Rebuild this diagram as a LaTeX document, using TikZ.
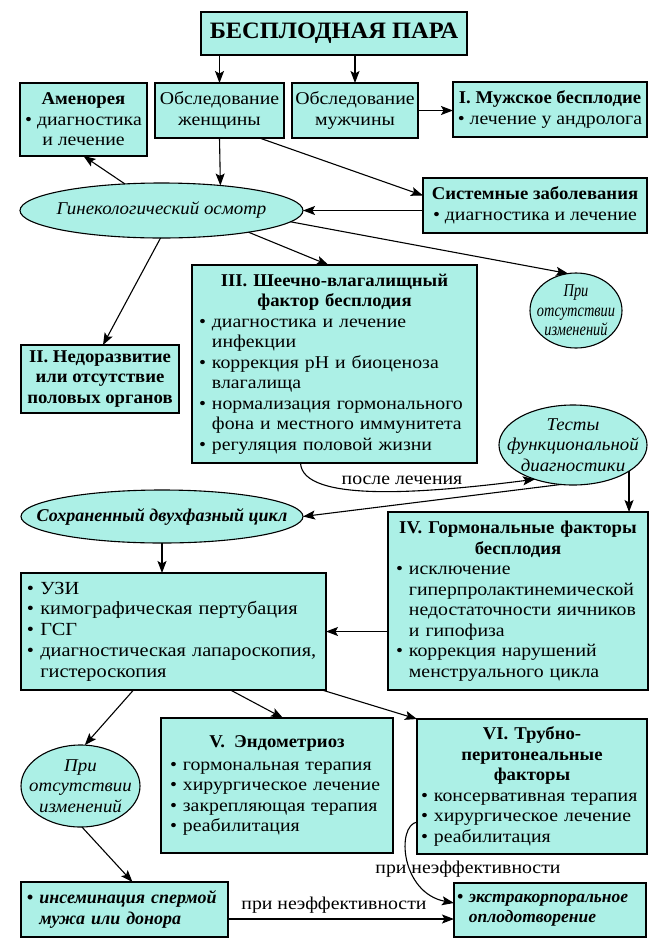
\documentclass[tikz,border=0pt]{standalone}
\usepackage{fontspec}
\setmainfont{Liberation Serif}[UprightFeatures={FakeStretch=1.1},BoldFeatures={FakeStretch=1.04},ItalicFeatures={FakeStretch=1.05}]
\newfontfamily\narrowit{Liberation Serif}[FakeStretch=0.8]
\usetikzlibrary{shapes.geometric,arrows.meta,calc}
\definecolor{boxc}{RGB}{172,240,230}
\newcommand\bsz{\fontsize{18}{20.5}\selectfont}
\newcommand\ctr[1]{\makebox[\hsize][c]{#1}}
\newcommand\ind{\phantom{•\ }}
\begin{document}
\begin{tikzpicture}[x=1pt,y=-1pt,
  every node/.style={font=\bsz},
  box/.style={draw, line width=1.1pt, fill=boxc, inner sep=0pt, outer sep=0pt},
  oval/.style={ellipse, draw, line width=1.1pt, fill=boxc, inner xsep=-80pt, inner ysep=-25pt, outer sep=0pt, align=center},
  arr/.style={line width=1.1pt, -{Stealth[length=12pt,width=9pt,inset=2.5pt]}},
  lbl/.style={inner sep=1pt}]
\useasboundingbox (0,0) rectangle (660,946);
\fill[white] (0,0) rectangle (660,946);

\node[box, minimum width=266pt, minimum height=43pt, font=\fontsize{23.5}{26}\selectfont\bfseries] (title) at (334,33.5) {БЕСПЛОДНАЯ ПАРА};
\node[box, minimum width=127pt, minimum height=73pt, align=center] (amen) at (83.5,119.5) {\textbf{Аменорея}\\• диагностика\\и лечение};
\node[box, minimum width=129pt, minimum height=55pt, align=center] (wom) at (219.5,110.5) {Обследование\\женщины};
\node[box, minimum width=126pt, minimum height=55pt, align=center] (men) at (355,110.5) {Обследование\\мужчины};
\node[box, minimum width=194pt, minimum height=55pt, align=center] (male) at (550,109.5) {\textbf{I. Мужское бесплодие}\\• лечение у андролога};
\node[box, minimum width=224pt, minimum height=55pt, align=center] (syst) at (535,205.5) {\textbf{Системные заболевания}\\• диагностика и лечение};
\node[oval, minimum width=283pt, minimum height=55pt, font=\bsz\itshape] (gyn) at (161.5,210.5) {Гинекологический осмотр};
\node[box, minimum width=158pt, minimum height=68pt, align=center, font=\bsz\bfseries] (und) at (100,379) {II. Недоразвитие\\или отсутствие\\половых органов};
\node[box, minimum width=285pt, minimum height=198pt, text width=271pt, align=left] (cerv) at (334.5,364) {\ctr{\textbf{III. Шеечно-влагалищный}}\\\ctr{\textbf{фактор бесплодия}}\\• диагностика и лечение\\\ind инфекции\\• коррекция pH и биоценоза\\\ind влагалища\\• нормализация гормонального\\\ind фона и местного иммунитета\\• регуляция половой жизни};
\node[oval, minimum width=92pt, minimum height=75pt, font=\fontsize{18}{19.5}\selectfont\narrowit\itshape] (pri1) at (576,310.5) {При\\отсутствии\\изменений};
\node[oval, minimum width=148pt, minimum height=80pt, font=\bsz\itshape] (tests) at (573,445) {Тесты\\функциональной\\диагностики};
\node[oval, minimum width=282pt, minimum height=53pt, font=\bsz\bfseries\itshape] (sohr) at (162,516.5) {Сохраненный двухфазный цикл};
\node[box, minimum width=260pt, minimum height=178pt, text width=244pt, align=left] (horm) at (518,601) {\ctr{\textbf{IV. Гормональные факторы}}\\\ctr{\textbf{бесплодия}}\\• исключение\\\ind гиперпролактинемической\\\ind недостаточности яичников\\\ind и гипофиза\\• коррекция нарушений\\\ind менструального цикла};
\node[box, minimum width=305pt, minimum height=117pt, text width=293pt, align=left, font=\fontsize{18.5}{20.8}\selectfont] (uzi) at (173.5,631.5) {• УЗИ\\• кимографическая пертубация\\• ГСГ\\• диагностическая лапароскопия,\\\ind гистероскопия};
\node[box, minimum width=232pt, minimum height=135pt, text width=214pt, align=left] (endo) at (277,785.5) {\ctr{\textbf{V.\enspace Эндометриоз}}\\[2pt]• гормональная терапия\\• хирургическое лечение\\• закрепляющая терапия\\• реабилитация};
\node[box, minimum width=230pt, minimum height=135pt, text width=222pt, align=left] (tube) at (532,786.5) {\ctr{\textbf{VI. Трубно-}}\\\ctr{\textbf{перитонеальные}}\\\ctr{\textbf{факторы}}\\• консервативная терапия\\• хирургическое лечение\\• реабилитация};
\node[oval, minimum width=119pt, minimum height=82pt, font=\bsz\itshape] (pri2) at (80.5,786) {При\\отсутствии\\изменений};
\node[box, minimum width=207pt, minimum height=55pt, text width=195pt, align=left, font=\bsz\bfseries\itshape] (insem) at (124.5,909.5) {• инсеминация спермой\\\ind мужа или донора};
\node[box, minimum width=192pt, minimum height=54pt, text width=186pt, align=left, font=\fontsize{17.5}{20.5}\selectfont\bfseries\itshape] (eko) at (550,910) {• экстракорпоральное\\\ind оплодотворение};

\node[lbl] (l1) at (402,480) {после лечения};
\node[lbl] (l2) at (334,905) {при неэффективности};
\node[lbl] (l3) at (468,869) {при неэффективности};

\draw[arr] (title.south -| wom.north) -- (wom.north);
\draw[arr] (title.south -| men.north) -- (men.north);
\draw[arr] (men.east) -- (male.west |- men.east);
\draw[arr] (wom.south) -- (gyn.23);
\draw[arr] (gyn.144) -- (amen.south);
\draw[arr] ([xshift=40pt]wom.south) -- ([yshift=10pt]syst.west);
\draw[arr] (syst.west |- gyn.east) -- (gyn.east);
\draw[arr] (gyn.-14) -- ([xshift=-6pt]cerv.north);
\draw[arr] (gyn.-5) -- (pri1.102);
\draw[arr] (gyn.-92) -- ([xshift=3pt]und.north);
\coordinate (c3) at ([xshift=-34pt]cerv.south);
\draw[arr] (c3) .. controls ($(c3)+(2,40)$) and ($(tests.222)+(-110,14)$) .. (tests.222);
\draw[arr] (tests.253) -- (sohr.east);
\draw[arr] (tests.-25) -- (tests.-25 |- horm.north);
\draw[arr] (sohr.south) -- (sohr.south |- uzi.north);
\draw[arr] (uzi.east -| horm.west) -- (uzi.east);
\draw[arr] ([xshift=-40pt]uzi.south) -- (pri2.84);
\draw[arr] ([xshift=57pt]uzi.south) -- ([xshift=6pt]endo.north);
\draw[arr] ([xshift=-4pt]uzi.south east) -- (tube.north west);
\draw[arr] (pri2.-88) -- ([xshift=8pt]insem.north);
\draw[arr] ([yshift=-9.5pt]insem.east) -- ([yshift=-9.5pt]insem.east -| eko.west);
\coordinate (c6) at ([yshift=-35.5pt]tube.west);
\coordinate (c7) at ([yshift=7pt]eko.west);
\draw[arr] (c6) .. controls ($(c6)+(-21,4)$) and ($(c7)+(-53,-10)$) .. (c7);
\end{tikzpicture}
\end{document}
